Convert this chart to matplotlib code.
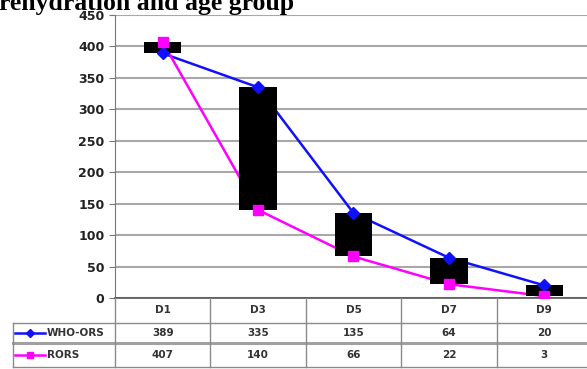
import numpy as np
import matplotlib.pyplot as plt
from matplotlib.lines import Line2D

# rehydration time points and the two ORS series
days = ['D1', 'D3', 'D5', 'D7', 'D9']
who_ors = [389, 335, 135, 64, 20]
rors = [407, 140, 66, 22, 3]
yticks = [0, 50, 100, 150, 200, 250, 300, 350, 400, 450]

W, H = 587, 369
fig = plt.figure(figsize=(W / 100, H / 100), dpi=100)

def fx(px):
    return px / W

def fy(py):
    return 1 - py / H

ax_left, ax_right, ax_top, ax_bot = 115, 592, 15, 298
ax = fig.add_axes([fx(ax_left), fy(ax_bot), fx(ax_right - ax_left), (ax_bot - ax_top) / H])

x = np.arange(len(days))
blue = '#1010ff'
pink = '#ff00ff'

ax.plot(x, who_ors, color=blue, lw=1.8, zorder=2)
ax.plot(x, rors, color=pink, lw=1.8, zorder=2)

# up/down bars between the two series
lo = np.minimum(who_ors, rors)
hi = np.maximum(who_ors, rors)
ax.bar(x, hi - lo, bottom=lo, width=0.39, color='black', zorder=3)

ax.plot(x, who_ors, ls='none', marker='D', ms=6, color=blue, zorder=4)
ax.plot(x, rors, ls='none', marker='s', ms=6.5, color=pink, zorder=4)

ax.set_xlim(-0.5, len(days) - 0.5)
ax.set_ylim(0, 450)
ax.set_yticks(yticks)
ax.set_xticks([])
ax.yaxis.grid(True, color='#a8a8a8', lw=1.5)
ax.set_axisbelow(True)
for s in ['top', 'right']:
    ax.spines[s].set_visible(False)
ax.spines['left'].set_color('#777777')
ax.spines['bottom'].set_color('#555555')
ax.spines['bottom'].set_linewidth(1.2)
ax.tick_params(axis='y', direction='out', length=4, color='#777777',
               labelsize=9, labelcolor='#222222')
for lab in ax.get_yticklabels():
    lab.set_fontweight('bold')

# title, partly off the top edge
fig.text(fx(-1), fy(10), 'rehydration and age group', family='Liberation Serif',
         fontweight='bold', fontsize=18.5, ha='left', va='baseline')

# data table under the axis
col_w = (ax_right - ax_left) / len(days)
rows_y = [298, 323, 343, 367]
grid_c = '#8a8a8a'

def hline(x0, x1, y, lw=1.0, c=grid_c):
    fig.add_artist(Line2D([fx(x0), fx(x1)], [fy(y), fy(y)], color=c, lw=lw))

def vline(xp, y0, y1, lw=1.0, c=grid_c):
    fig.add_artist(Line2D([fx(xp), fx(xp)], [fy(y0), fy(y1)], color=c, lw=lw))

hline(13, W, rows_y[1])
hline(13, W, rows_y[2], lw=2.2, c='#a0a0a0')
hline(13, W, rows_y[3])
vline(13, rows_y[1], rows_y[3])
for k in range(len(days) + 1):
    vline(ax_left + k * col_w, rows_y[0], rows_y[3])

for k, d in enumerate(days):
    cx = ax_left + (k + 0.5) * col_w
    fig.text(fx(cx), fy(310), d, ha='center', va='center', fontsize=7.5,
             fontweight='bold', color='#333333')
    fig.text(fx(cx), fy(333), str(who_ors[k]), ha='center', va='center',
             fontsize=7.5, fontweight='bold', color='#333333')
    fig.text(fx(cx), fy(355), str(rors[k]), ha='center', va='center',
             fontsize=7.5, fontweight='bold', color='#333333')

# series keys in the left column
for yc, col, mk, name in [(333, blue, 'D', 'WHO-ORS'), (355, pink, 's', 'RORS')]:
    fig.add_artist(Line2D([fx(15), fx(45)], [fy(yc), fy(yc)], color=col, lw=1.8))
    fig.add_artist(Line2D([fx(30)], [fy(yc)], color=col, marker=mk, ms=4.5, ls='none'))
    fig.text(fx(47), fy(yc), name, ha='left', va='center', fontsize=7.5,
             fontweight='bold', color='#333333')

fig.savefig('out.png', dpi=100)
